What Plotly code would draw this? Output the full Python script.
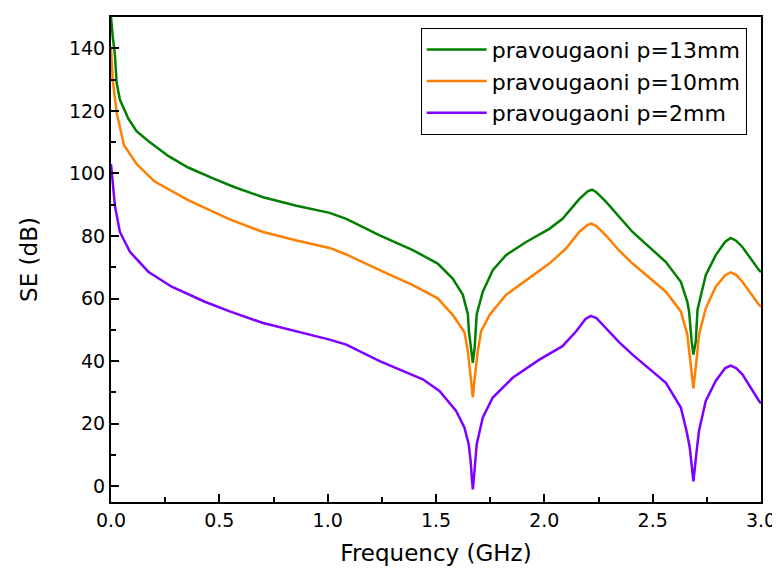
import plotly.graph_objects as go

# Frequency (GHz) / SE (dB)
f_13 = [0, 0.003, 0.008, 0.018, 0.026, 0.041, 0.08, 0.118, 0.172, 0.264, 0.356, 0.479, 0.571,
        0.702, 0.856, 1.009, 1.086, 1.24, 1.393, 1.508, 1.577, 1.624, 1.647, 1.652, 1.662, 1.670,
        1.678, 1.684, 1.688, 1.716, 1.762, 1.823, 1.916, 2.023, 2.084, 2.161, 2.20, 2.22, 2.24,
        2.284, 2.346, 2.407, 2.561, 2.63, 2.66, 2.668, 2.68, 2.688, 2.699, 2.707, 2.745, 2.791,
        2.835, 2.86, 2.885, 2.914, 2.991, 3.0]
se_13 = [150, 146, 143.7, 138, 129, 123.6, 117.5, 113.5, 110.4, 105.6, 101.9, 98.2, 95.6,
         92.4, 89.7, 87.4, 85.5, 80.2, 75.5, 71.2, 66.4, 61.2, 55, 49.5, 44, 39.5,
         44, 49.5, 55, 62.2, 69.1, 73.9, 78.1, 82.3, 85.5, 91.8, 94.3, 94.8, 94.0,
         91.0, 86, 81.3, 71.7, 65.4, 59, 55.9, 46.3, 42.1, 46.3, 56.5, 67.5, 73.9,
         78.2, 79.4, 78.5, 76.5, 69.1, 68.5]

f_10 = [0, 0.008, 0.026, 0.06, 0.118, 0.2, 0.356, 0.548, 0.702, 0.856, 1.009, 1.086, 1.24,
        1.393, 1.508, 1.577, 1.631, 1.647, 1.662, 1.670, 1.677, 1.693, 1.708, 1.747, 1.823,
        1.916, 2.023, 2.1, 2.161, 2.20, 2.217, 2.24, 2.284, 2.346, 2.407, 2.561, 2.63, 2.66,
        2.675, 2.688, 2.702, 2.714, 2.745, 2.791, 2.835, 2.86, 2.885, 2.914, 2.991, 3.0]
se_10 = [140, 130, 119.5, 109, 103, 97.5, 91.5, 85.3, 81.3, 78.6, 76.2, 74.1, 69.1,
         64.3, 60.1, 54.8, 49.3, 43.2, 33.7, 28.4, 33.7, 43.2, 49.5, 54.8, 61.2,
         65.9, 71.2, 76, 81.3, 83.6, 84, 83.2, 80.2, 75.3, 71.2, 62.2, 55.9, 48.5,
         40, 31.3, 40, 48.5, 56.9, 63.8, 67.5, 68.4, 67.6, 65.4, 58, 57.5]

f_2 = [0, 0.018, 0.041, 0.088, 0.172, 0.28, 0.433, 0.548, 0.702, 0.856, 1.009, 1.086, 1.24,
       1.439, 1.516, 1.593, 1.631, 1.651, 1.660, 1.666, 1.670, 1.674, 1.680, 1.688, 1.716,
       1.762, 1.854, 1.977, 2.084, 2.146, 2.19, 2.215, 2.24, 2.284, 2.346, 2.407, 2.561,
       2.63, 2.656, 2.671, 2.688, 2.705, 2.714, 2.745, 2.791, 2.835, 2.86, 2.885, 2.914,
       2.991, 3.0]
se_2 = [103, 89.7, 81.3, 74.9, 68.6, 63.8, 59, 55.9, 52.2, 49.5, 46.9, 45.3, 40,
        34.2, 30.5, 24.1, 18.8, 13.5, 8, 2, -1, 2, 8, 13.5, 22,
        28.4, 34.7, 40.5, 44.8, 49.5, 53.5, 54.5, 53.8, 50.6, 46, 42.1, 33.1,
        25.2, 17.8, 12.5, 1.6, 12.5, 17.8, 27.3, 33.7, 37.8, 38.6, 37.8, 35.8,
        27.3, 26.5]

names = ["pravougaoni p=13mm", "pravougaoni p=10mm", "pravougaoni p=2mm"]
colors = ["#007F00", "#FF7F00", "#7F00FF"]

FONT = "DejaVu Sans, Liberation Sans, Arial, sans-serif"

fig = go.Figure()
for fx, fy, nm, c in [(f_13, se_13, names[0], colors[0]),
                      (f_10, se_10, names[1], colors[1]),
                      (f_2, se_2, names[2], colors[2])]:
    fig.add_trace(go.Scatter(x=fx, y=fy, mode="lines", name=nm,
                             line=dict(color=c, width=2.5)))

axis_common = dict(showgrid=False, zeroline=False, showline=True, linecolor="black",
                   linewidth=2, mirror=True, ticks="inside", ticklen=8, tickwidth=2,
                   tickcolor="black", tickfont=dict(family=FONT, size=19, color="black"))

fig.update_xaxes(range=[0, 3.0], dtick=0.5, tick0=0, tickformat=".1f",
                 title=dict(text="Frequency (GHz)", font=dict(family=FONT, size=23, color="black"),
                            standoff=15),
                 minor=dict(ticks="inside", ticklen=5, tickwidth=1.5, tickcolor="black", dtick=0.25),
                 **axis_common)
fig.update_yaxes(range=[-5, 150], dtick=20, tick0=0,
                 title=dict(text="SE (dB)", font=dict(family=FONT, size=23, color="black"),
                            standoff=25),
                 minor=dict(ticks="inside", ticklen=5, tickwidth=1.5, tickcolor="black", dtick=10),
                 **axis_common)

# page body adds an 8px offset; margins compensate so the plot box sits at 111..761 x 15..502
fig.update_layout(
    width=780, height=572,
    margin=dict(l=103, r=27, t=7, b=78),
    paper_bgcolor="white", plot_bgcolor="white",
    font=dict(family=FONT, color="black"),
    legend=dict(x=0.978, y=0.978, xanchor="right", yanchor="top",
                bgcolor="white", bordercolor="black", borderwidth=1,
                font=dict(family=FONT, size=22, color="black"), itemwidth=60),
)

fig.write_html("out.html")
